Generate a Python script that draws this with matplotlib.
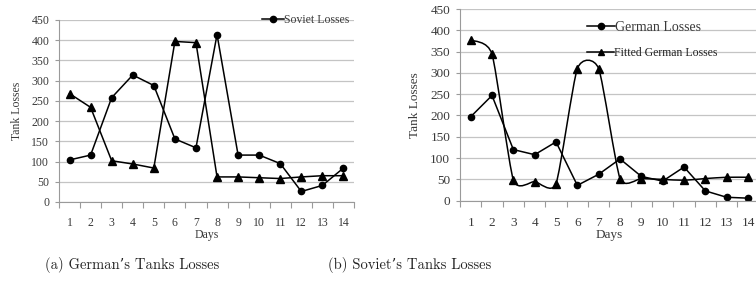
import matplotlib
matplotlib.use("Agg")
import matplotlib.pyplot as plt
from matplotlib.path import Path
from matplotlib.patches import PathPatch
from matplotlib.lines import Line2D
import numpy as np

# Data
days = list(range(1, 15))
day_labels = [str(d) for d in days]

# (a) left panel
soviet_losses = [104, 116, 258, 314, 288, 156, 134, 414, 116, 116, 95, 26, 41, 84]
german_losses_a = [268, 234, 102, 94, 84, 397, 394, 62, 62, 60, 58, 62, 65, 65]

# (b) right panel
german_losses = [197, 247, 120, 108, 138, 36, 62, 98, 57, 46, 79, 23, 8, 6]
fitted_german = [377, 344, 49, 45, 40, 310, 310, 52, 52, 50, 48, 52, 55, 55]

y_ticks = list(range(0, 451, 50))
captions = ["(a) German\u2019s Tanks Losses", "(b) Soviet\u2019s Tanks Losses"]

SERIF = ["Liberation Serif", "DejaVu Serif"]
CAPTION_FONT = ["cmr10", "DejaVu Serif"]
TEXT = "#3a3a3a"
GRID = "#c4c4c4"
SPINE = "#9a9a9a"


def smooth_path(x, y, f=0.1):
    # Excel-like smoothed line built as cubic Bezier segments through the points
    pts = np.column_stack([x, y]).astype(float)
    n = len(pts)
    verts = [pts[0]]
    codes = [Path.MOVETO]
    for i in range(n - 1):
        p_prev = pts[i - 1] if i > 0 else pts[i]
        p_next2 = pts[i + 2] if i + 2 < n else pts[i + 1]
        c1 = pts[i] + f * (pts[i + 1] - p_prev)
        c2 = pts[i + 1] - f * (p_next2 - pts[i])
        verts += [c1, c2, pts[i + 1]]
        codes += [Path.CURVE4] * 3
    return Path(verts, codes)


def style_axes(ax, fs_tick, fs_label, xpad, ylabelpad):
    ax.set_xlim(0.5, 14.5)
    ax.set_ylim(0, 450)
    ax.set_yticks(y_ticks)
    ax.set_xticks(days)
    ax.set_xticklabels(day_labels, fontfamily=SERIF, fontsize=fs_tick, color=TEXT)
    ax.set_yticklabels([str(v) for v in y_ticks], fontfamily=SERIF, fontsize=fs_tick, color=TEXT)
    ax.set_xticks(np.arange(0.5, 15, 1), minor=True)
    ax.tick_params(axis="x", which="major", length=0, pad=xpad)
    ax.tick_params(axis="x", which="minor", length=4, color=SPINE, width=0.8, direction="out")
    ax.tick_params(axis="y", length=3, color=SPINE, width=0.8, pad=4)
    ax.grid(axis="y", color=GRID, linewidth=0.9)
    ax.set_axisbelow(True)
    for s in ["top", "right"]:
        ax.spines[s].set_visible(False)
    for s in ["left", "bottom"]:
        ax.spines[s].set_color(SPINE)
        ax.spines[s].set_linewidth(0.8)
    ax.set_xlabel("Days", fontfamily=SERIF, fontsize=fs_label, color=TEXT, labelpad=0)
    ax.set_ylabel("Tank Losses", fontfamily=SERIF, fontsize=fs_label, color=TEXT,
                  labelpad=ylabelpad)


fig = plt.figure(figsize=(7.56, 2.89), dpi=100)
fig.patch.set_facecolor("white")

# ---- (a) ----
ax1 = fig.add_axes([59 / 756, 1 - 202 / 289, 295 / 756, 182 / 289])
style_axes(ax1, 8.5, 8.5, 10.5, 6)
ax1.plot(days, soviet_losses, color="black", lw=1.1, marker="o", ms=4.5,
         label="Soviet Losses")
ax1.plot(days, german_losses_a, color="black", lw=1.1, marker="^", ms=5.5)
ax1.legend(loc="center left", bbox_to_anchor=(0.688, 1.0), frameon=False,
           prop={"family": SERIF, "size": 8.5}, handlelength=1.9,
           handletextpad=0.0, borderaxespad=0, borderpad=0, labelcolor=TEXT)

# ---- (b) ----
ax2 = fig.add_axes([460 / 756, 1 - 200.7 / 289, 298.7 / 756, 191.7 / 289])
style_axes(ax2, 9.5, 9.5, 11.5, 7)
ax2.plot(days, german_losses, color="black", lw=1.1, marker="o", ms=4.5)
ax2.add_patch(PathPatch(smooth_path(days, fitted_german), facecolor="none",
                        edgecolor="black", lw=1.1))
ax2.plot(days, fitted_german, ls="none", color="black", marker="^", ms=5.5)

h1 = Line2D([], [], color="black", lw=1.1, marker="o", ms=4.5)
h2 = Line2D([], [], color="black", lw=1.1, marker="^", ms=4.5)
leg1 = ax2.legend([h1], ["German Losses"], loc="center left",
                  bbox_to_anchor=(0.425, 0.906), frameon=False,
                  prop={"family": SERIF, "size": 10}, handlelength=2.0,
                  handletextpad=0.0, borderaxespad=0, borderpad=0, labelcolor=TEXT)
ax2.add_artist(leg1)
ax2.legend([h2], ["Fitted German Losses"], loc="center left",
           bbox_to_anchor=(0.425, 0.77), frameon=False,
           prop={"family": SERIF, "size": 8.5}, handlelength=2.3,
           handletextpad=0.0, borderaxespad=0, borderpad=0, labelcolor="#222222")

# captions
fig.text(132 / 756, 1 - 265 / 289, captions[0], ha="center", va="center",
         fontfamily=CAPTION_FONT, fontsize=10.5, color="#222222")
fig.text(410 / 756, 1 - 265 / 289, captions[1], ha="center", va="center",
         fontfamily=CAPTION_FONT, fontsize=10.5, color="#222222")

fig.savefig("out.png", dpi=100, facecolor="white")
